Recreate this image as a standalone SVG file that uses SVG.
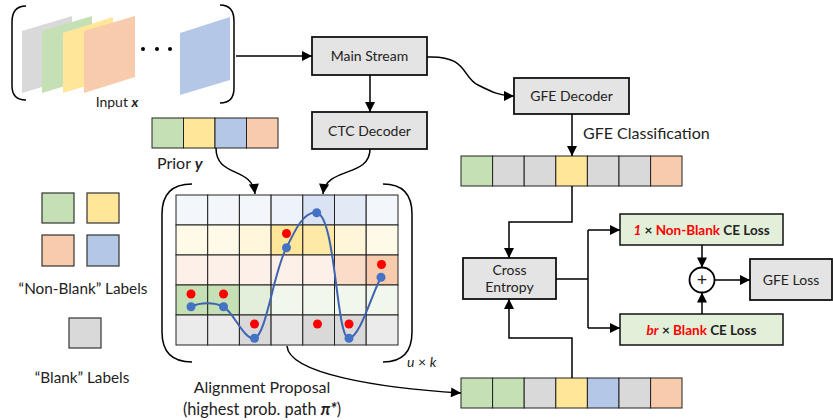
<svg xmlns="http://www.w3.org/2000/svg" width="833" height="420" viewBox="0 0 833 420">
  <defs>
    <marker id="ah" viewBox="0 0 10 10" refX="10" refY="5" markerWidth="11" markerHeight="10" markerUnits="userSpaceOnUse" orient="auto">
      <path d="M0,0 L10,5 L0,10 z" fill="#000"/>
    </marker>
    <style>
      text { font-family: Lato, "Open Sans", "Liberation Sans", sans-serif; fill: #222; }
      .t14 { font-size: 14px; }
      .t16 { font-size: 16px; }
      .box { fill: #e4e4e4; stroke: #111; stroke-width: 1.8; }
      .gbox { fill: #e2efd9; stroke: #111; stroke-width: 1.5; }
      .cell { stroke: #222; stroke-width: 1; }
      .g { fill: #c5e0b4; } .y { fill: #ffe699; } .o { fill: #f8cbad; } .b { fill: #b4c7e7; } .k { fill: #d9d9d9; }
      .conn { fill: none; stroke: #000; stroke-width: 1.5; }
      .brk { fill: none; stroke: #000; stroke-width: 1.5; }
      .leg { stroke: #333; stroke-width: 1.2; }
      .red { fill: #ff0000; }
      .blu { fill: #4472c4; }
      .bold { font-weight: bold; }
      .rd { fill: #ff0000; }
    </style>
  </defs>

  <!-- input frames -->
  <g id="input">
    <path class="brk" d="M26,6 C16,6 12,12 12,22 L12,86 C12,95 16,100 26,100"/>
    <path class="brk" d="M220,5 C230,5 234,11 234,21 L234,88 C234,98 230,103 220,103"/>
    <polygon points="22,31 72,16 72,78 22,93" fill="#d9d9d9"/>
    <polygon points="42,31 92,16 92,78 42,93" fill="#c5e0b4"/>
    <polygon points="63,33 113,17 113,78 63,93" fill="#ffe699"/>
    <polygon points="84,31 135,16 135,77 84,93" fill="#f8cbad"/>
    <circle cx="143" cy="49" r="2" fill="#000"/>
    <circle cx="157" cy="49" r="2" fill="#000"/>
    <circle cx="170" cy="49" r="2" fill="#000"/>
    <polygon points="180,33 230,17 230,80 180,95" fill="#b4c7e7"/>
    <text class="t14" x="117" y="107" text-anchor="middle">Input <tspan font-weight="bold" font-style="italic">x</tspan></text>
  </g>

  <g id="main-stream">
    <rect class="box" x="312" y="37" width="115" height="38"/>
    <text class="t14" x="369.5" y="61" text-anchor="middle">Main Stream</text>
  </g>

  <g id="ctc-decoder">
    <rect class="box" x="312" y="112" width="115" height="37"/>
    <text class="t14" x="369.5" y="135.5" text-anchor="middle">CTC Decoder</text>
  </g>

  <g id="gfe-decoder">
    <rect class="box" x="514" y="78" width="115" height="36"/>
    <text class="t14" x="571.5" y="101" text-anchor="middle">GFE Decoder</text>
  </g>

  <g id="gfe-classification">
    <text class="t16" x="583" y="139">GFE Classification</text>
    <rect class="cell g" x="461" y="156" width="31.6" height="30"/>
    <rect class="cell k" x="492.6" y="156" width="31.6" height="30"/>
    <rect class="cell k" x="524.2" y="156" width="31.6" height="30"/>
    <rect class="cell y" x="555.8" y="156" width="31.6" height="30"/>
    <rect class="cell k" x="587.4" y="156" width="31.6" height="30"/>
    <rect class="cell k" x="619" y="156" width="31.6" height="30"/>
    <rect class="cell o" x="650.6" y="156" width="31.4" height="30"/>
  </g>

  <g id="prior">
    <rect class="cell g" x="152" y="118" width="31.5" height="30"/>
    <rect class="cell y" x="183.5" y="118" width="31.5" height="30"/>
    <rect class="cell b" x="215" y="118" width="31.5" height="30"/>
    <rect class="cell o" x="246.5" y="118" width="31.5" height="30"/>
    <text class="t16" x="157" y="169">Prior <tspan font-weight="bold" font-style="italic">y</tspan></text>
  </g>

  <g id="legend">
    <rect class="leg g" x="42" y="193" width="32" height="30"/>
    <rect class="leg y" x="87" y="193" width="32" height="30"/>
    <rect class="leg o" x="42" y="235" width="32" height="31"/>
    <rect class="leg b" x="87" y="235" width="32" height="31"/>
    <text x="83" y="294" text-anchor="middle" font-size="15.3">“Non-Blank” Labels</text>
    <rect class="leg k" x="69" y="318" width="32" height="30"/>
    <text x="82" y="383" text-anchor="middle" font-size="15.3">“Blank” Labels</text>
  </g>

  <g id="alignment-grid">
    <path class="brk" d="M192,184 C172,184 162,194 162,214 L162,332 C162,352 172,362 192,362"/>
    <path class="brk" d="M383,184 C403,184 412,194 412,214 L412,332 C412,352 403,362 383,362"/>
    <!-- row 0 -->
    <rect class="cell" x="176" y="195" width="31.7" height="30" fill="#f3f6fb"/>
    <rect class="cell" x="207.7" y="195" width="31.7" height="30" fill="#f3f6fb"/>
    <rect class="cell" x="239.4" y="195" width="31.7" height="30" fill="#f3f6fb"/>
    <rect class="cell" x="271.1" y="195" width="31.7" height="30" fill="#eef2f9"/>
    <rect class="cell" x="302.8" y="195" width="31.7" height="30" fill="#dae3f3"/>
    <rect class="cell" x="334.5" y="195" width="31.7" height="30" fill="#e4eaf5"/>
    <rect class="cell" x="366.2" y="195" width="31.8" height="30" fill="#f3f6fb"/>
    <!-- row 1 -->
    <rect class="cell" x="176" y="225" width="31.7" height="30" fill="#fff9e8"/>
    <rect class="cell" x="207.7" y="225" width="31.7" height="30" fill="#fff9e8"/>
    <rect class="cell" x="239.4" y="225" width="31.7" height="30" fill="#fff6dc"/>
    <rect class="cell" x="271.1" y="225" width="31.7" height="30" fill="#ffe699"/>
    <rect class="cell" x="302.8" y="225" width="31.7" height="30" fill="#ffe9a6"/>
    <rect class="cell" x="334.5" y="225" width="31.7" height="30" fill="#fff5d8"/>
    <rect class="cell" x="366.2" y="225" width="31.8" height="30" fill="#fff9e8"/>
    <!-- row 2 -->
    <rect class="cell" x="176" y="255" width="31.7" height="30" fill="#fdf0e8"/>
    <rect class="cell" x="207.7" y="255" width="31.7" height="30" fill="#fdf0e8"/>
    <rect class="cell" x="239.4" y="255" width="31.7" height="30" fill="#fdf0e8"/>
    <rect class="cell" x="271.1" y="255" width="31.7" height="30" fill="#fdf0e8"/>
    <rect class="cell" x="302.8" y="255" width="31.7" height="30" fill="#fdf0e8"/>
    <rect class="cell" x="334.5" y="255" width="31.7" height="30" fill="#fadcc8"/>
    <rect class="cell" x="366.2" y="255" width="31.8" height="30" fill="#f8cbad"/>
    <!-- row 3 -->
    <rect class="cell" x="176" y="285" width="31.7" height="30" fill="#c5e0b4"/>
    <rect class="cell" x="207.7" y="285" width="31.7" height="30" fill="#c5e0b4"/>
    <rect class="cell" x="239.4" y="285" width="31.7" height="30" fill="#e3efda"/>
    <rect class="cell" x="271.1" y="285" width="31.7" height="30" fill="#f1f7ed"/>
    <rect class="cell" x="302.8" y="285" width="31.7" height="30" fill="#f1f7ed"/>
    <rect class="cell" x="334.5" y="285" width="31.7" height="30" fill="#f1f7ed"/>
    <rect class="cell" x="366.2" y="285" width="31.8" height="30" fill="#f1f7ed"/>
    <!-- row 4 -->
    <rect class="cell" x="176" y="315" width="31.7" height="30" fill="#ebebeb"/>
    <rect class="cell" x="207.7" y="315" width="31.7" height="30" fill="#ebebeb"/>
    <rect class="cell" x="239.4" y="315" width="31.7" height="30" fill="#d9d9d9"/>
    <rect class="cell" x="271.1" y="315" width="31.7" height="30" fill="#e6e6e6"/>
    <rect class="cell" x="302.8" y="315" width="31.7" height="30" fill="#d9d9d9"/>
    <rect class="cell" x="334.5" y="315" width="31.7" height="30" fill="#d9d9d9"/>
    <rect class="cell" x="366.2" y="315" width="31.8" height="30" fill="#ebebeb"/>
    <!-- highest-probability labels -->
    <circle class="red" cx="191" cy="294" r="4.5"/>
    <circle class="red" cx="223.5" cy="294" r="4.5"/>
    <circle class="red" cx="254.5" cy="324" r="4.5"/>
    <circle class="red" cx="286.5" cy="233.5" r="4.5"/>
    <circle class="red" cx="317.5" cy="324" r="4.5"/>
    <circle class="red" cx="349" cy="324" r="4.5"/>
    <circle class="red" cx="381.5" cy="264.5" r="4.5"/>
    <!-- alignment path -->
    <path d="M191,306.7 C200,302 215,302 223.5,306.7 C234,313 244,340 254.5,338.3 C266,336 274,270 286.5,247.7 C295,230 304,211 316.7,212.7 C336,216 336,339 349,338.3 C360,337 371,296 381,277.3" fill="none" stroke="#3f63b0" stroke-width="2"/>
    <circle class="blu" cx="191" cy="306.7" r="4.5"/>
    <circle class="blu" cx="223.5" cy="306.7" r="4.5"/>
    <circle class="blu" cx="254.5" cy="338.3" r="4.5"/>
    <circle class="blu" cx="286.5" cy="247.7" r="4.5"/>
    <circle class="blu" cx="316.7" cy="212.7" r="4.5"/>
    <circle class="blu" cx="349" cy="338.3" r="4.5"/>
    <circle class="blu" cx="381" cy="277.3" r="4.5"/>
    <text class="t14" x="407" y="367"><tspan font-style="italic">u</tspan> × <tspan font-style="italic">k</tspan></text>
    <text class="t16" x="262" y="393" text-anchor="middle">Alignment Proposal</text>
    <text x="262" y="415" text-anchor="middle" font-size="16.3">(highest prob. path <tspan font-weight="bold" font-style="italic">π*</tspan>)</text>
  </g>

  <g id="alignment-row">
    <rect class="cell g" x="461" y="378" width="31.6" height="30"/>
    <rect class="cell g" x="492.6" y="378" width="31.6" height="30"/>
    <rect class="cell k" x="524.2" y="378" width="31.6" height="30"/>
    <rect class="cell y" x="555.8" y="378" width="31.6" height="30"/>
    <rect class="cell b" x="587.4" y="378" width="31.6" height="30"/>
    <rect class="cell k" x="619" y="378" width="31.6" height="30"/>
    <rect class="cell o" x="650.6" y="378" width="31.4" height="30"/>
  </g>

  <g id="cross-entropy">
    <rect class="box" x="463" y="258" width="93" height="41"/>
    <text class="t14" x="509.5" y="275" text-anchor="middle">Cross</text>
    <text class="t14" x="509.5" y="292" text-anchor="middle">Entropy</text>
  </g>

  <g id="non-blank-loss">
    <rect class="gbox" x="620" y="214" width="163" height="31"/>
    <text x="701.5" y="234.5" text-anchor="middle" font-size="13.5" class="bold"><tspan class="rd" font-style="italic">1</tspan> × <tspan class="rd">Non-Blank</tspan> CE Loss</text>
  </g>

  <g id="blank-loss">
    <rect class="gbox" x="620" y="314" width="163" height="31"/>
    <text x="701.5" y="334.5" text-anchor="middle" font-size="13.5" class="bold"><tspan class="rd" font-style="italic">br</tspan> × <tspan class="rd">Blank</tspan> CE Loss</text>
  </g>

  <g id="sum">
    <circle cx="702" cy="280" r="12.5" fill="#fff" stroke="#000" stroke-width="1.8"/>
    <text x="702" y="286" text-anchor="middle" font-size="18">+</text>
  </g>

  <g id="gfe-loss">
    <rect class="box" x="750" y="259" width="82" height="41"/>
    <text class="t14" x="791" y="284.5" text-anchor="middle">GFE Loss</text>
  </g>

  <g id="connectors">
    <path class="conn" d="M236,56 L312,56" marker-end="url(#ah)"/>
    <path class="conn" d="M370,75 L370,112" marker-end="url(#ah)"/>
    <path class="conn" d="M427,57 C468,55 462,78 478,85 C492,92 500,96 514,96" marker-end="url(#ah)"/>
    <path class="conn" d="M572,114 L572,156" marker-end="url(#ah)"/>
    <path class="conn" d="M216,148 C216,178 252,166 255,194" marker-end="url(#ah)"/>
    <path class="conn" d="M370,149 C370,178 326,166 323,194" marker-end="url(#ah)"/>
    <path class="conn" d="M572,186 L572,222 L509,222 L509,258" marker-end="url(#ah)"/>
    <path class="conn" d="M572,378 L572,338 L509,338 L509,299" marker-end="url(#ah)"/>
    <path class="conn" d="M287,346 C289,374 380,388 461,393" marker-end="url(#ah)"/>
    <path class="conn" d="M556,279 L588,279"/>
    <path class="conn" d="M588,230 L588,328"/>
    <path class="conn" d="M588,230 L620,230" marker-end="url(#ah)"/>
    <path class="conn" d="M588,328 L620,328" marker-end="url(#ah)"/>
    <path class="conn" d="M702,245 L702,267.5" marker-end="url(#ah)"/>
    <path class="conn" d="M702,314 L702,292.5" marker-end="url(#ah)"/>
    <path class="conn" d="M714.5,280 L750,280" marker-end="url(#ah)"/>
  </g>
</svg>
